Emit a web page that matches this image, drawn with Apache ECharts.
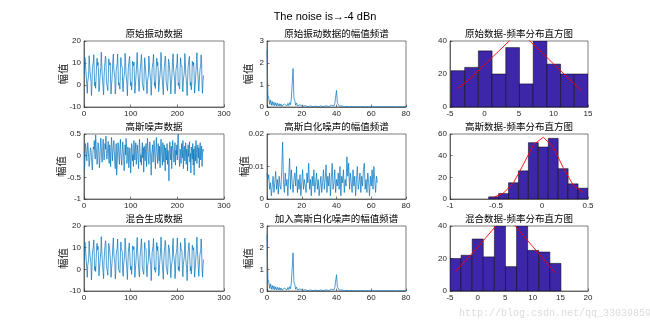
<!DOCTYPE html>
<html><head><meta charset="utf-8">
<script src="https://cdn.jsdelivr.net/npm/echarts/dist/echarts.min.js"></script>
<style>html,body{margin:0;padding:0;background:#fff}#c{width:650px;height:325px}</style>
</head><body><div id="c"></div>
<script>
// ---------- DATA ----------
const sigOrig = [
5.0,12.5,9.9,9.5,9.4,0.3,-3.8,1.4,2.3,4.6,13.3,12.9,5.9,5.1,1.7,-4.8,
0.1,7.4,7.3,10.8,13.8,5.6,-0.4,1.2,-1.5,-0.8,9.2,12.2,8.9,10.3,6.4,-3.0,
-2.0,2.6,2.2,8.0,14.9,9.9,4.9,4.8,-1.5,-4.4,3.8,7.9,7.8,13.1,11.6,1.9,
0.1,0.8,-2.5,2.8,11.9,10.6,9.1,10.1,2.3,-4.1,0.4,2.6,3.4,11.8,14.1,6.9,
5.0,3.1,-4.1,-1.8,6.6,7.5,9.6,14.1,7.7,-0.1,1.0,-0.6,-1.9,7.2,12.5,9.2,
10.0,8.1,-1.6,-3.1,2.2,2.2,6.2,14.4,11.5,5.2,5.1,0.2,-4.9,2.0,7.8,7.4,
12.0,13.0,3.6,-0.3,1.1,-2.2,0.9,10.8,11.5,8.8,10.4,4.5,-3.8,-0.8,2.7,2.6,
10.0,14.8,8.3,4.9,4.1,-2.9,-3.3,5.4,7.7,8.6,13.8,9.8,0.6,0.5,0.2,-2.5,
5.1,12.4,9.9,9.6,9.3,0.3,-3.9,1.5,2.3,4.5,13.2,12.9,6.0,5.1,1.6,-4.7,
0.1,7.5,7.3,10.7,13.9,5.6,-0.3,1.2,-1.6,-0.8,9.3,12.2,8.8,10.3,6.5,-3.0,
-2.1,2.6,2.3,8.0,14.8,9.9,4.8,4.8,-1.4,-4.4,3.9,7.9,7.7,13.1,11.7,1.9,
0.2,0.8,-2.6,2.8,11.8,10.6,9.2,10.1,2.2,-4.1,0.5,2.6,3.3,11.8,14.2,6.9,
4.9,3.1,-4.0,-1.8,6.7,7.5,9.5,14.0,7.7,-0.2,1.0,-0.6,-1.8,7.2,12.4,9.2,
10.1,8.1,-1.7,-3.1,2.3,2.2,6.1,14.3,11.5,5.3,5.1,0.1,-4.8,2.0,7.9,7.4,
11.9,13.0,3.7,-0.3,1.2,-2.2,0.8,10.7,11.6,8.8,10.3,4.5,-3.7,-0.8,2.8,2.6,
10.1,14.7,8.3,5.0,4.1,-2.8,-3.3,5.3,7.7,8.7,13.7,9.8,0.6,-3.8,1.5,4.4
];
const noise = [
-0.35,-0.10,0.28,0.22,0.05,-0.12,0.10,0.30,0.18,-0.05,-0.25,-0.15,0.08,0.18,0.12,-0.05,
-0.20,-0.33,0.05,0.20,0.15,0.35,0.10,-0.08,0.48,0.22,0.05,-0.20,-0.10,0.30,0.25,0.05,
-0.28,-0.12,0.18,0.40,0.22,-0.05,-0.15,0.08,0.38,0.10,-0.10,0.02,0.28,0.15,0.45,0.12,
-0.08,0.05,0.20,0.33,-0.05,-0.18,0.25,0.10,-0.25,0.15,0.42,0.20,-0.12,0.08,0.22,0.35,
0.10,-0.15,-0.30,0.05,0.28,-0.45,-0.20,0.12,0.30,0.18,-0.08,-0.20,0.15,0.38,0.06,-0.10,
-0.22,0.10,0.32,0.15,-0.05,-0.35,-0.12,0.25,0.02,0.40,0.28,-0.18,-0.02,0.20,0.12,-0.28,
-0.10,0.18,0.05,-0.40,-0.12,0.28,0.22,-0.12,0.02,-0.25,0.35,0.08,-0.10,0.15,0.30,-0.20,
-0.05,0.25,0.12,-0.08,-0.30,0.20,0.38,0.08,-0.15,0.02,-0.22,0.10,0.30,-0.05,0.18,-0.38,
0.22,0.05,-0.12,0.15,0.28,-0.25,0.10,0.40,0.18,-0.05,-0.20,0.08,0.32,0.15,-0.10,-0.45,
0.02,0.12,0.25,-0.15,0.05,0.35,0.20,-0.08,-0.30,0.10,0.42,0.15,-0.02,-0.18,0.28,0.05,
-0.12,0.22,-0.28,0.10,0.38,0.15,-0.05,-0.22,0.30,0.02,-0.15,0.25,0.08,-0.35,0.18,0.05,
-0.10,0.28,-0.20,0.12,-0.02,-0.58,0.15,0.32,0.05,-0.10,0.22,-0.30,0.10,0.35,0.18,-0.05,
-0.15,0.08,0.30,-0.22,0.12,0.02,0.25,-0.10,0.42,0.50,0.20,-0.08,-0.25,0.15,0.05,-0.18,
0.28,0.12,-0.05,0.35,-0.30,0.10,0.22,-0.12,0.02,0.30,-0.20,0.15,0.08,-0.35,0.25,-0.02,
0.12,0.32,-0.15,0.05,-0.40,0.20,0.10,-0.08,0.28,-0.22,0.15,-0.45,0.05,0.22,-0.12,0.35,
0.08,-0.18,0.12,0.25,-0.05,0.18,-0.28,0.10,0.30,-0.10,0.02,0.22,-0.25,0.08,0.15,0.10
];
const sigMix = [
4.7,12.6,10.2,9.4,9.6,0.0,-3.7,1.6,2.2,4.7,13.1,13.0,6.1,5.0,2.0,-4.9,
0.2,7.1,7.5,10.8,13.6,6.0,-0.5,1.3,-1.0,-0.8,9.5,12.0,9.0,10.6,6.3,-3.0,
-2.3,2.8,2.6,8.0,15.1,9.8,5.0,5.2,-1.6,-4.3,3.8,8.2,7.6,13.2,12.1,1.8,
0.3,0.9,-2.7,3.1,12.0,10.6,9.4,9.9,2.5,-3.7,0.3,2.7,3.6,11.8,14.5,7.0,
4.9,3.3,-4.4,-1.7,6.9,7.1,9.7,14.0,8.0,-0.1,0.8,-0.5,-1.5,7.1,12.6,9.4,
9.8,8.2,-1.3,-3.2,2.4,1.8,6.5,14.4,11.4,5.6,5.2,0.0,-4.7,2.0,7.9,7.1,
12.2,13.1,3.2,-0.2,1.4,-2.3,1.1,10.8,11.3,9.2,10.5,4.4,-3.7,-0.5,2.5,2.7,
10.3,14.7,8.4,4.6,4.3,-2.5,-3.5,5.5,7.7,8.4,14.1,9.9,0.6,0.7,-0.2,-2.3,
5.1,12.4,10.2,9.7,9.2,0.4,-3.4,1.4,2.5,4.4,13.4,13.2,5.8,5.1,1.9,-5.2,
0.2,7.7,7.2,10.9,14.2,5.5,-0.2,0.9,-1.4,-0.4,9.2,12.4,8.7,10.6,6.5,-3.1,
-1.8,2.3,2.3,8.4,14.9,10.1,4.7,5.1,-1.5,-4.6,4.1,8.0,7.5,13.3,11.7,1.8,
0.4,0.6,-2.4,2.8,11.3,10.8,9.4,10.0,2.4,-3.9,0.1,2.7,3.8,11.8,14.3,6.8,
5.1,3.4,-4.3,-1.7,6.6,7.8,9.5,14.5,8.2,-0.2,1.2,-0.9,-1.8,7.3,12.3,9.5,
10.0,8.2,-1.3,-3.4,2.3,2.4,6.1,14.4,11.8,5.0,5.3,0.3,-5.2,2.3,7.8,7.5,
12.3,12.9,3.7,-0.7,1.3,-2.1,0.8,11.1,11.3,9.0,10.0,4.6,-3.6,-0.9,3.1,2.7,
9.8,14.9,8.6,4.9,4.3,-3.2,-3.2,5.7,7.6,8.6,14.0,9.6,0.7,-3.6,1.3,4.5
];
// amplitude spectra, frequency step 0.5
const specStep = 0.5;
const specOrig = [
2.6,0.55,0.42,0.12,0.32,0.08,0.26,0.07,0.22,0.06,
0.19,0.05,0.17,0.05,0.15,0.04,0.14,0.04,0.13,0.04,
0.13,0.04,0.14,0.05,0.16,0.06,0.2,0.1,0.35,0.42,
1.75,0.4,0.3,0.08,0.18,0.05,0.13,0.04,0.1,0.03,
0.08,0.03,0.07,0.02,0.06,0.02,0.05,0.02,0.05,0.02,
0.045,0.015,0.04,0.015,0.04,0.015,0.04,0.015,0.04,0.015,
0.04,0.015,0.045,0.015,0.045,0.02,0.05,0.02,0.055,0.02,
0.06,0.02,0.07,0.025,0.08,0.03,0.1,0.05,0.15,0.22,
0.75,0.2,0.12,0.04,0.07,0.02,0.05,0.02,0.04,0.015,
0.035,0.012,0.03,0.01,0.028,0.01,0.025,0.01,0.024,0.01,
0.022,0.01,0.021,0.01,0.02,0.01,0.02,0.01,0.019,0.01,
0.019,0.01,0.018,0.01,0.018,0.01,0.018,0.01,0.017,0.01,
0.017,0.008,0.017,0.008,0.016,0.008,0.016,0.008,0.016,0.008,
0.016,0.008,0.015,0.008,0.015,0.008,0.015,0.008,0.015,0.008,
0.015,0.008,0.015,0.008,0.015,0.008,0.015,0.008,0.015,0.008,
0.015,0.008,0.015,0.008,0.015,0.008,0.015,0.008,0.015,0.008,0.015
];
const specMix = [
2.6,0.56,0.41,0.12,0.33,0.08,0.26,0.07,0.23,0.06,
0.19,0.05,0.17,0.05,0.16,0.04,0.14,0.04,0.13,0.04,
0.13,0.04,0.14,0.05,0.16,0.06,0.2,0.1,0.36,0.42,
1.76,0.41,0.3,0.08,0.18,0.05,0.13,0.04,0.1,0.03,
0.08,0.03,0.07,0.02,0.06,0.02,0.05,0.02,0.05,0.02,
0.046,0.015,0.04,0.016,0.041,0.015,0.04,0.015,0.04,0.016,
0.04,0.015,0.045,0.016,0.045,0.02,0.05,0.02,0.055,0.02,
0.06,0.02,0.07,0.025,0.08,0.03,0.1,0.05,0.15,0.22,
0.75,0.2,0.12,0.04,0.07,0.02,0.05,0.02,0.04,0.016,
0.035,0.012,0.031,0.01,0.028,0.011,0.025,0.01,0.024,0.01,
0.022,0.01,0.021,0.011,0.02,0.01,0.02,0.01,0.019,0.01,
0.019,0.01,0.018,0.01,0.018,0.011,0.018,0.01,0.017,0.01,
0.017,0.008,0.017,0.008,0.016,0.009,0.016,0.008,0.016,0.008,
0.016,0.008,0.015,0.008,0.015,0.008,0.015,0.009,0.015,0.008,
0.015,0.008,0.015,0.008,0.015,0.008,0.015,0.008,0.015,0.008,
0.015,0.008,0.015,0.008,0.015,0.008,0.015,0.008,0.015,0.008,0.015
];
const specNoise = [
0.008,0.006,0.0075,0.003,0.005,0.001,0.004,0.007,0.002,0.005,0.0085,0.003,0.006,0.0015,0.007,0.004,
0.003,0.009,0.0175,0.005,0.002,0.008,0.004,0.006,0.001,0.007,0.0125,0.003,0.009,0.005,0.002,0.006,
0.008,0.004,0.010,0.002,0.006,0.003,0.0075,0.001,0.005,0.009,0.003,0.006,0.004,0.002,0.008,0.005,
0.011,0.003,0.006,0.001,0.007,0.004,0.009,0.002,0.005,0.008,0.003,0.006,0.001,0.004,0.007,0.002,
0.005,0.009,0.003,0.006,0.0105,0.002,0.007,0.004,0.008,0.001,0.006,0.011,0.003,0.005,0.009,0.002,
0.006,0.004,0.008,0.003,0.010,0.001,0.007,0.005,0.009,0.002,0.006,0.004,0.013,0.007,0.011,0.003,
0.008,0.005,0.002,0.009,0.004,0.007,0.001,0.006,0.010,0.003,0.005,0.008,0.002,0.007,0.004,0.009,
0.011,0.003,0.006,0.002,0.008,0.005,0.001,0.007,0.004,0.009,0.003,0.010,0.006,0.002,0.007,0.005
];
// histograms: bin edges, counts, and fitted curve (at bin centres)
const histOrigEdges = [-4.86,-2.87,-0.89,1.10,3.08,5.07,7.06,9.04,11.03,13.01,15.0];
const histOrigCounts = [22,24,34,20,36,14,40,26,20,20];
const fitOrigX = [-3.87,-1.88,0.10,2.09,4.08,6.06,8.05,10.04,12.02,14.01];
const fitOrigY = [11,18,26,34,42,42,34,26,18,10];
const histGaussEdges = [-0.58,-0.472,-0.364,-0.256,-0.148,-0.04,0.068,0.176,0.284,0.392,0.50];
const histGaussCounts = [2,5,15,26,52,48,56,28,14,10];
const fitGaussX = [-0.526,-0.418,-0.31,-0.202,-0.094,0.014,0.122,0.23,0.338,0.446];
const fitGaussY = [1.5,5.5,15,32,50,57,48,29,13,6];
const histMixEdges = [-5.0,-2.99,-0.98,1.03,3.04,5.05,7.06,9.07,11.08,13.09,15.10];
const histMixCounts = [20,22,32,21,40,15,40,25,24,17];
const fitMixX = [-4.0,-1.99,0.03,2.04,4.05,6.06,8.07,10.08,12.09,14.1];
const fitMixY = [12,19.5,27,35,43,43,35,27,19,11];

const titles = ['原始振动数据','原始振动数据的幅值频谱','原始数据-频率分布直方图',
  '高斯噪声数据','高斯白化噪声的幅值频谱','高斯数据-频率分布直方图',
  '混合生成数据','加入高斯白化噪声的幅值频谱','混合数据-频率分布直方图'];
const yLabel = '幅值';
const mainTitle = 'The noise is→-4 dBn';
const watermark = 'http://blog.csdn.net/qq_33039859';

// ---------- LAYOUT ----------
const AX = '#262626';
const NUM_FONT = '"Liberation Sans", Arial, sans-serif';
const CJK_FONT = '"Noto Sans CJK SC", sans-serif';
const cols = [[84,140],[267,139],[450,138]];
const rows = [[41,66],[134,65],[226,65]];
const axesCfg = [
  {x:[0,300,100], y:[-10,20,10], gap:16},
  {x:[0,80,20], y:[0,3,1], gap:13.75},
  {x:[-5,15,5], y:[0,40,20], gap:null},
  {x:[0,300,100], y:[-1,0.5,0.5], gap:17.5},
  {x:[0,80,20], y:[0,0.02,0.01], gap:17.75},
  {x:[-1,0.5,0.5], y:[0,60,20], gap:null},
  {x:[0,300,100], y:[-10,20,10], gap:16},
  {x:[0,80,20], y:[0,3,1], gap:13.75},
  {x:[-5,20,5], y:[0,40,20], gap:null}
];

const grids=[], xAxes=[], yAxes=[], graphics=[];
axesCfg.forEach((a,i)=>{
  const r=Math.floor(i/3), c=i%3;
  grids.push({left:cols[c][0], top:rows[r][0], width:cols[c][1], height:rows[r][1],
    show:true, borderColor:AX, borderWidth:0.6, backgroundColor:'#fff', containLabel:false});
  const common = {
    type:'value', gridIndex:i,
    axisLine:{show:true,onZero:false,lineStyle:{color:AX,width:0.6}},
    axisTick:{show:true,inside:true,length:2.5,lineStyle:{color:AX,width:0.6}},
    splitLine:{show:false},
    axisLabel:{fontSize:8,fontFamily:NUM_FONT,color:AX,margin:3,showMinLabel:true,showMaxLabel:true}
  };
  xAxes.push(Object.assign({}, common, {min:a.x[0],max:a.x[1],interval:a.x[2]}));
  const y = Object.assign({}, common, {min:a.y[0],max:a.y[1],interval:a.y[2]});
  if(a.gap!==null){
    y.name=yLabel; y.nameLocation='middle'; y.nameGap=a.gap; y.nameRotate=90; y.nameMoveOverlap=false;
    y.nameTextStyle={fontFamily:CJK_FONT,fontSize:10.5,color:AX};
  }
  yAxes.push(y);
  graphics.push({type:'text', x:cols[c][0]+cols[c][1]/2, y:rows[r][0]-7.5,
    style:{text:titles[i], font:'9.5px '+CJK_FONT, fill:'#000', textAlign:'center', textVerticalAlign:'middle', align:'center', verticalAlign:'middle'}});
});
graphics.push({type:'text', x:325, y:17, style:{text:mainTitle, font:'11px '+NUM_FONT, fill:'#000',
  textAlign:'center', textVerticalAlign:'middle', align:'center', verticalAlign:'middle'}});
graphics.push({type:'text', x:459, y:313, style:{text:watermark, font:'10px "Liberation Mono", monospace', fill:'#dcdcdc',
  textAlign:'left', textVerticalAlign:'middle', align:'left', verticalAlign:'middle'}});

const LINE = '#0072BD';
function lineSeries(idx, data, color, w){
  return {type:'line', xAxisIndex:idx, yAxisIndex:idx, data:data, showSymbol:false, symbol:'none',
    lineStyle:{color:color||LINE, width:w||0.7}, animation:false, silent:true, clip:true, sampling:null};
}
const seq = arr => arr.map((v,i)=>[i+1, v]);
const spec = arr => arr.map((v,i)=>[i*specStep, v]);
const pairs = (xs, ys) => xs.map((x,i)=>[x, ys[i]]);
function histRender(params, api){
  const l=api.value(0), r=api.value(1), h=api.value(2);
  const p0=api.coord([l,h]), p1=api.coord([r,0]);
  return {type:'rect', shape:{x:p0[0], y:p0[1], width:p1[0]-p0[0], height:p1[1]-p0[1]},
    style:{fill:'#3E26A8', stroke:'#000', lineWidth:0.5}};
}
function histSeries(idx, edges, counts){
  return {type:'custom', xAxisIndex:idx, yAxisIndex:idx, renderItem:histRender, clip:true,
    dimensions:['l','r','h'], encode:{x:[0,1], y:2},
    data: counts.map((n,i)=>[edges[i], edges[i+1], n]), animation:false, silent:true};
}

const option = {
  animation:false,
  grid:grids, xAxis:xAxes, yAxis:yAxes, graphic:graphics,
  series:[
    lineSeries(0, seq(sigOrig)),
    lineSeries(1, spec(specOrig)),
    histSeries(2, histOrigEdges, histOrigCounts),
    lineSeries(2, pairs(fitOrigX, fitOrigY), '#ff0000', 0.9),
    lineSeries(3, seq(noise)),
    lineSeries(4, spec(specNoise)),
    histSeries(5, histGaussEdges, histGaussCounts),
    lineSeries(5, pairs(fitGaussX, fitGaussY), '#ff0000', 0.9),
    lineSeries(6, seq(sigMix)),
    lineSeries(7, spec(specMix)),
    histSeries(8, histMixEdges, histMixCounts),
    lineSeries(8, pairs(fitMixX, fitMixY), '#ff0000', 0.9)
  ]
};
const chart = echarts.init(document.getElementById('c'));
chart.setOption(option);
</script></body></html>
